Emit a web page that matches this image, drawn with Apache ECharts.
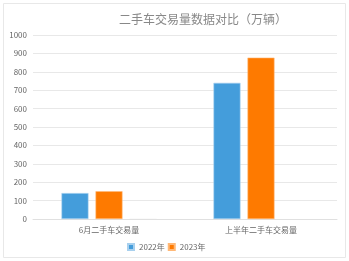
<!DOCTYPE html>
<html><head><meta charset="utf-8">
<script src="https://cdn.jsdelivr.net/npm/echarts@6/dist/echarts.min.js"></script>
<style>html,body{margin:0;padding:0;background:#fff}#c{width:349px;height:261px}</style>
</head><body><div id="c"></div>
<script>
const title = '二手车交易量数据对比（万辆）';
const categories = ['6月二手车交易量', '上半年二手车交易量'];
const seriesNames = ['2022年', '2023年'];
const values2022 = [141, 740];
const values2023 = [151, 877];
const valuesExtra = [2, 0];
const yTicks = [0, 100, 200, 300, 400, 500, 600, 700, 800, 900, 1000];

const chart = echarts.init(document.getElementById('c'), null, {renderer: 'canvas'});
const font = '"Noto Sans CJK SC", "Noto Sans", sans-serif';
chart.setOption({
  animation: false,
  backgroundColor: '#fff',
  graphic: [{type: 'rect', shape: {x: 3.5, y: 3.5, width: 342, height: 254}, style: {fill: 'none', stroke: '#e8e8e8', lineWidth: 1}, silent: true}],
  title: {text: title, left: 198, top: 8, textAlign: 'center',
    textStyle: {fontFamily: font, fontSize: 12, fontWeight: 'normal', color: '#888'}},
  legend: {data: seriesNames, top: 243, left: 127, itemWidth: 6, itemHeight: 6, itemGap: 3,
    icon: 'rect', textStyle: {fontFamily: font, fontSize: 8, color: '#666'}, padding: 0},
  grid: {left: 33, right: 12, top: 35, bottom: 42, containLabel: false},
  xAxis: {type: 'category', data: categories,
    axisLine: {lineStyle: {color: '#e0e0e0'}}, axisTick: {show: false},
    axisLabel: {fontFamily: font, fontSize: 8, color: '#666', margin: 7}},
  yAxis: {type: 'value', min: yTicks[0], max: yTicks[yTicks.length - 1], interval: 100,
    axisLine: {show: false}, axisTick: {show: false},
    splitLine: {lineStyle: {color: '#e8e8e8'}},
    axisLabel: {fontFamily: font, fontSize: 8, color: '#666', margin: 6, formatter: v => String(v)}},
  series: [
    {name: seriesNames[0], type: 'bar', data: values2022, barWidth: 27, barGap: '26%', barCategoryGap: '37%',
      itemStyle: {color: '#449ddb', borderColor: '#a8d0ee', borderWidth: 0.6}},
    {name: seriesNames[1], type: 'bar', data: values2023, barWidth: 27,
      itemStyle: {color: '#fe7a00', borderColor: '#ffb877', borderWidth: 0.6}},
    {name: 'extra', type: 'bar', data: valuesExtra, barWidth: 27,
      itemStyle: {color: '#f0f0f0'}}
  ]
});
</script></body></html>
